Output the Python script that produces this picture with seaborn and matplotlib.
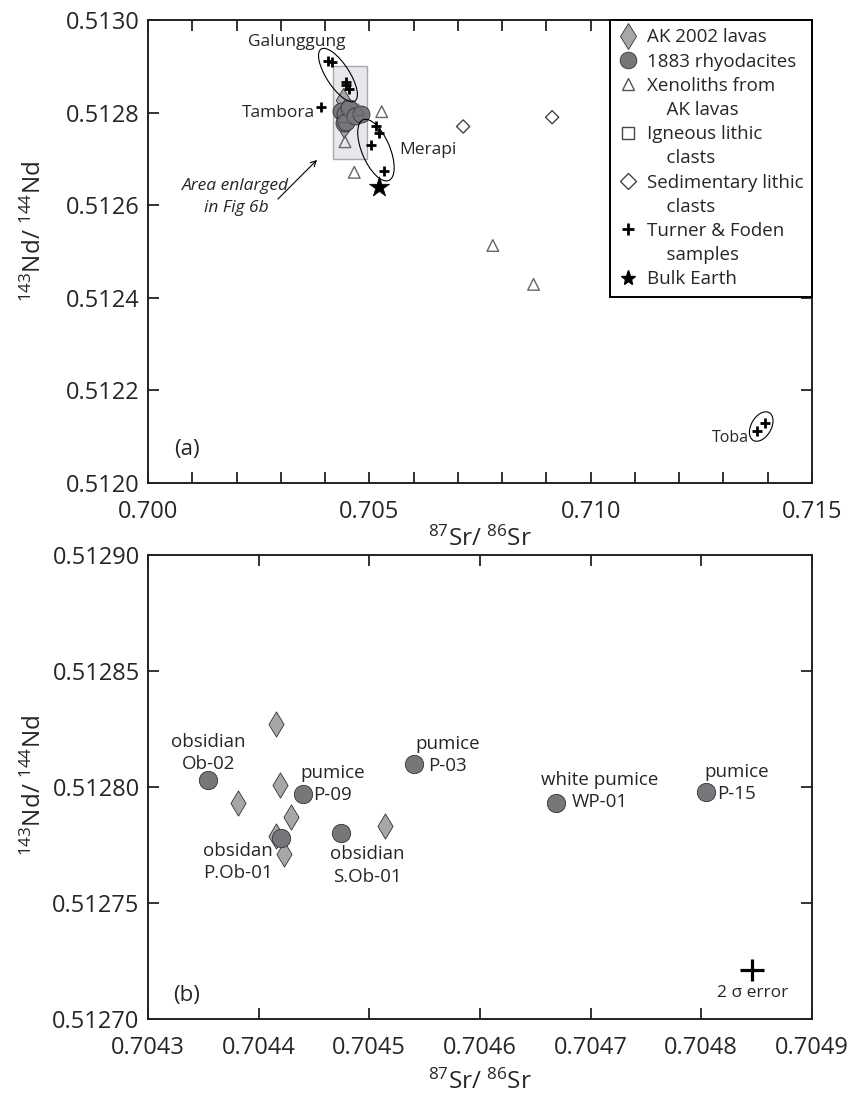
import numpy as np
import pandas as pd
import matplotlib
matplotlib.use("Agg")
import matplotlib.pyplot as plt
import seaborn as sns
from matplotlib.patches import Ellipse, Rectangle
from matplotlib.lines import Line2D
from matplotlib import transforms as mtrans
import matplotlib.ticker as mticker

# ---------------- data ----------------
ak_sr = [0.704416, 0.704419, 0.704381, 0.704429, 0.704416, 0.704423, 0.704514]
ak_nd = [0.512827, 0.512801, 0.512793, 0.512787, 0.512779, 0.512771, 0.512783]

rhyo_names = ["Ob-02", "P-09", "P.Ob-01", "S.Ob-01", "P-03", "WP-01", "P-15"]
rhyo_types = ["obsidian", "pumice", "obsidan", "obsidian", "pumice", "white pumice", "pumice"]
rhyo_sr = [0.704354, 0.704440, 0.704420, 0.704474, 0.704540, 0.704669, 0.704804]
rhyo_nd = [0.512803, 0.512797, 0.512778, 0.512780, 0.512810, 0.512793, 0.512798]

xeno_sr = [0.70445, 0.70475, 0.70441, 0.70528, 0.70466, 0.70779, 0.70871]
xeno_nd = [0.512737, 0.512806, 0.512791, 0.512802, 0.512671, 0.512513, 0.512429]

sed_sr = [0.70712, 0.70913]
sed_nd = [0.51277, 0.51279]

tf_group = ["Galunggung"] * 5 + ["Tambora"] + ["Merapi"] * 4 + ["Toba"] * 2
tf_sr = [0.70407, 0.70416, 0.70447, 0.70447, 0.70454, 0.70392,
         0.70514, 0.70522, 0.70504, 0.70533, 0.71376, 0.71394]
tf_nd = [0.512911, 0.512909, 0.512867, 0.512860, 0.512850, 0.512811,
         0.512771, 0.512755, 0.512730, 0.512674, 0.512113, 0.512130]

bulk_sr = [0.70522]
bulk_nd = [0.51264]

err_sr = [0.704846]
err_nd = [0.512721]
err_dsr = [0.000011]
err_dnd = [0.0000048]

enlarged_sr = [0.70418, 0.70495]
enlarged_nd = [0.51270, 0.51290]

top_xticks = [0.700, 0.705, 0.710, 0.715]
top_yticks = [0.5120, 0.5122, 0.5124, 0.5126, 0.5128, 0.5130]
bot_xticks = [0.7043, 0.7044, 0.7045, 0.7046, 0.7047, 0.7048, 0.7049]
bot_yticks = [0.51270, 0.51275, 0.51280, 0.51285, 0.51290]

ak_df = pd.DataFrame({"sr": ak_sr, "nd": ak_nd})
rh_df = pd.DataFrame({"sr": rhyo_sr, "nd": rhyo_nd, "name": rhyo_names, "type": rhyo_types})
xe_df = pd.DataFrame({"sr": xeno_sr, "nd": xeno_nd})
se_df = pd.DataFrame({"sr": sed_sr, "nd": sed_nd})
tf_df = pd.DataFrame({"sr": tf_sr, "nd": tf_nd, "group": tf_group})
be_df = pd.DataFrame({"sr": bulk_sr, "nd": bulk_nd})

# ---------------- style ----------------
sns.set_style("ticks")
FONT = "Open Sans"
plt.rcParams["font.family"] = [FONT, "DejaVu Sans"]
plt.rcParams["mathtext.fontset"] = "custom"
plt.rcParams["mathtext.rm"] = FONT
plt.rcParams["mathtext.it"] = FONT + ":italic"
plt.rcParams["mathtext.default"] = "regular"
plt.rcParams["axes.linewidth"] = 1.4

DIA_C = "#a7a7aa"
CIR_C = "#77777b"
EDGE = "#333333"

fig = plt.figure(figsize=(8.48, 10.98), dpi=100)
ax1 = fig.add_axes([0.1745, 0.5601, 0.783, 0.4217])
ax2 = fig.add_axes([0.1745, 0.0719, 0.783, 0.4226])


def add_ellipse(ax, cx, cy, w_px, h_px, angle):
    tr = fig.dpi_scale_trans + mtrans.ScaledTranslation(cx, cy, ax.transData)
    e = Ellipse((0, 0), w_px / fig.dpi, h_px / fig.dpi, angle=angle, transform=tr,
                fill=False, ec="black", lw=0.8, zorder=6)
    ax.add_patch(e)


# ---------------- panel (a) ----------------
ax1.set_xlim(top_xticks[0], top_xticks[-1])
ax1.set_ylim(top_yticks[0], top_yticks[-1])
ax1.add_patch(Rectangle((enlarged_sr[0], enlarged_nd[0]), enlarged_sr[1] - enlarged_sr[0],
                        enlarged_nd[1] - enlarged_nd[0], fc="#e8e8ec", ec="#a8a8ac", lw=1.0, zorder=1))

sns.scatterplot(data=ak_df, x="sr", y="nd", ax=ax1, marker="d", s=150, color=DIA_C,
                edgecolor=EDGE, linewidth=0.6, zorder=3, legend=False)
sns.scatterplot(data=rh_df, x="sr", y="nd", ax=ax1, marker="o", s=150, color=CIR_C,
                edgecolor=EDGE, linewidth=0.6, zorder=4, legend=False)
sns.scatterplot(data=xe_df, x="sr", y="nd", ax=ax1, marker="^", s=70, facecolor="none",
                edgecolor="#666666", linewidth=1.0, zorder=5, legend=False)
sns.scatterplot(data=se_df, x="sr", y="nd", ax=ax1, marker="D", s=45, facecolor="none",
                edgecolor="#444444", linewidth=1.0, zorder=5, legend=False)
sns.scatterplot(data=tf_df, x="sr", y="nd", ax=ax1, marker="+", s=55, color="black",
                linewidth=2.0, zorder=7, legend=False)
sns.scatterplot(data=be_df, x="sr", y="nd", ax=ax1, marker="*", s=230, color="black",
                edgecolor="black", linewidth=0.5, zorder=7, legend=False)

add_ellipse(ax1, 0.704292, 0.512881, 62, 23, -57)
add_ellipse(ax1, 0.705150, 0.512719, 66, 28, -67)
add_ellipse(ax1, 0.713854, 0.512122, 32, 20, 60)

ax1.text(0.703366, 0.512952, "Galunggung", fontsize=12.5, ha="center", va="center")
ax1.text(0.703772, 0.512799, "Tambora", fontsize=12.5, ha="right", va="center")
ax1.text(0.705670, 0.512719, "Merapi", fontsize=12.5, ha="left", va="center")
ax1.text(0.713576, 0.512097, "Toba", fontsize=11.5, ha="right", va="center")
ax1.text(0.701988, 0.512618, "Area enlarged\nin Fig 6b", fontsize=12.5, style="italic",
         ha="center", va="center", linespacing=1.45)
ax1.annotate("", xy=(0.703863, 0.512702), xytext=(0.702891, 0.512609),
             arrowprops=dict(arrowstyle="->", lw=0.8, color="black"))
ax1.text(0.70088, 0.512073, "(a)", fontsize=16, ha="center", va="center")

ax1.xaxis.set_major_locator(mticker.FixedLocator(top_xticks))
ax1.xaxis.set_minor_locator(mticker.MultipleLocator(0.001))
ax1.xaxis.set_major_formatter(mticker.FormatStrFormatter("%.3f"))
ax1.yaxis.set_major_locator(mticker.FixedLocator(top_yticks))
ax1.yaxis.set_major_formatter(mticker.FormatStrFormatter("%.4f"))

handles = [
    Line2D([], [], ls="none", marker="d", ms=13.5, mfc=DIA_C, mec=EDGE, mew=0.6),
    Line2D([], [], ls="none", marker="o", ms=12, mfc=CIR_C, mec=EDGE, mew=0.6),
    Line2D([], [], ls="none", marker="^", ms=8.5, mfc="none", mec="#555555", mew=1.0),
    Line2D([], [], ls="none", marker=""),
    Line2D([], [], ls="none", marker="s", ms=8.5, mfc="none", mec="#444444", mew=1.0),
    Line2D([], [], ls="none", marker=""),
    Line2D([], [], ls="none", marker="D", ms=8, mfc="none", mec="#444444", mew=1.0),
    Line2D([], [], ls="none", marker=""),
    Line2D([], [], ls="none", marker="+", ms=9, mec="black", mew=2.0),
    Line2D([], [], ls="none", marker=""),
    Line2D([], [], ls="none", marker="*", ms=11, mfc="black", mec="black"),
]
labels = ["AK 2002 lavas", "1883 rhyodacites", "Xenoliths from", "    AK lavas",
          "Igneous lithic", "    clasts", "Sedimentary lithic", "    clasts",
          "Turner & Foden", "    samples", "Bulk Earth"]
leg = ax1.legend(handles, labels, loc="upper right", bbox_to_anchor=(1.0, 1.0),
                 borderaxespad=0.0, fontsize=13.5, frameon=True, fancybox=False,
                 edgecolor="black", framealpha=1.0, handlelength=1.0,
                 handletextpad=0.5, labelspacing=0.33, borderpad=0.45)
leg.get_frame().set_linewidth(1.4)
leg.set_zorder(10)

ax1.set_xlabel(r"$^{87}$Sr/ $^{86}$Sr", fontsize=17.5)
ax1.set_ylabel(r"$^{143}$Nd/ $^{144}$Nd", fontsize=17.5)
ax1.xaxis.set_label_coords(0.5, -0.095)
ax1.yaxis.set_label_coords(-0.152, 0.544)

# ---------------- panel (b) ----------------
ax2.set_xlim(bot_xticks[0], bot_xticks[-1])
ax2.set_ylim(bot_yticks[0], bot_yticks[-1])

sns.scatterplot(data=ak_df, x="sr", y="nd", ax=ax2, marker="d", s=165, color=DIA_C,
                edgecolor=EDGE, linewidth=0.6, zorder=3, legend=False)
sns.scatterplot(data=rh_df, x="sr", y="nd", ax=ax2, marker="o", s=175, color=CIR_C,
                edgecolor=EDGE, linewidth=0.6, zorder=4, legend=False)

label_offsets = {"Ob-02": (1, 27), "P-09": (30, 10), "P.Ob-01": (-43, -24),
                 "S.Ob-01": (27, -32), "P-03": (34, 9), "WP-01": (43, 12), "P-15": (31, 9)}
for _, r in rh_df.iterrows():
    ax2.annotate(f"{r['type']}\n{r['name']}", (r["sr"], r["nd"]),
                 xytext=label_offsets[r["name"]], textcoords="offset pixels",
                 ha="center", va="center", fontsize=13.5, linespacing=1.3, zorder=6)

ax2.errorbar(err_sr, err_nd, xerr=err_dsr, yerr=err_dnd, fmt="none", ecolor="black",
             elinewidth=2.3, capsize=0)
ax2.annotate("2 σ error", (err_sr[0], err_nd[0]), xytext=(0, -23), textcoords="offset pixels",
             ha="center", va="center", fontsize=12.5)
ax2.text(0.704335, 0.51271, "(b)", fontsize=16, ha="center", va="center")

ax2.xaxis.set_major_locator(mticker.FixedLocator(bot_xticks))
ax2.xaxis.set_major_formatter(mticker.FormatStrFormatter("%.4f"))
ax2.yaxis.set_major_locator(mticker.FixedLocator(bot_yticks))
ax2.yaxis.set_major_formatter(mticker.FormatStrFormatter("%.5f"))

ax2.set_xlabel(r"$^{87}$Sr/ $^{86}$Sr", fontsize=17.5)
ax2.set_ylabel(r"$^{143}$Nd/ $^{144}$Nd", fontsize=17.5)
ax2.xaxis.set_label_coords(0.5, -0.11)
ax2.yaxis.set_label_coords(-0.152, 0.504)

for ax in (ax1, ax2):
    ax.tick_params(which="both", direction="in", length=8, width=1.3, top=True, right=True,
                   labelsize=17, color="#222222")
    ax.tick_params(axis="x", which="both", pad=12)
    ax.tick_params(axis="y", which="both", pad=6)
    for sp in ax.spines.values():
        sp.set_color("#222222")

fig.savefig("out.png", dpi=100)
